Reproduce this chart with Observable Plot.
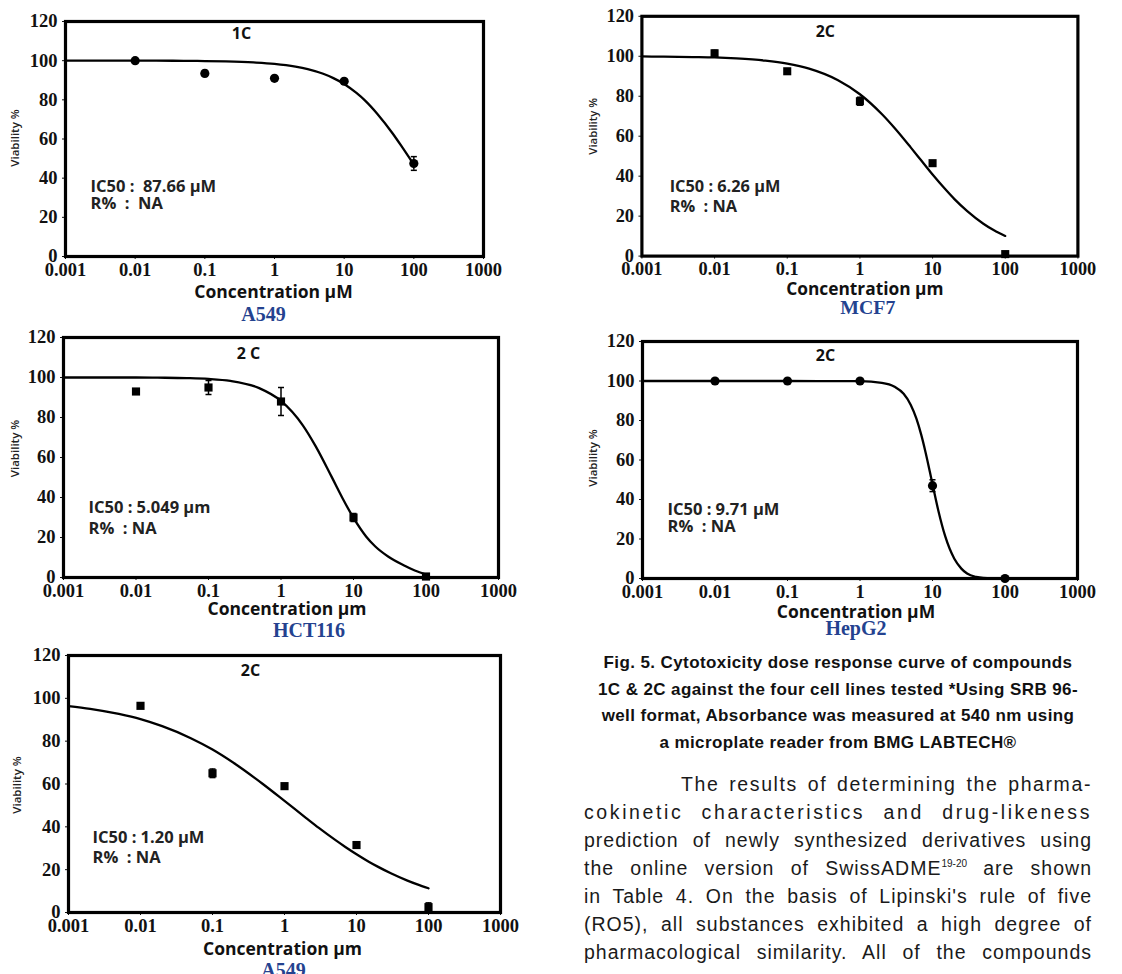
<!DOCTYPE html>
<html><head><meta charset="utf-8">
<script src="https://cdn.jsdelivr.net/npm/d3@7"></script>
<script src="https://cdn.jsdelivr.net/npm/@observablehq/plot@0.6"></script>
<style>
html,body{margin:0;padding:0;background:#fff;}
#page{position:relative;width:1122px;height:974px;overflow:hidden;background:#fff;}
.panel{position:absolute;}
.panel svg text{white-space:pre;}
.caption{position:absolute;left:580px;width:516px;top:650px;font-family:"Liberation Sans",Arial,sans-serif;font-weight:bold;font-size:17px;letter-spacing:0.4px;line-height:26.6px;text-align:center;color:#111;}
.body{position:absolute;left:584px;width:508px;top:770px;font-family:"Liberation Sans",Arial,sans-serif;font-size:19.5px;letter-spacing:1px;line-height:28px;color:#1a1a1a;}
.body div{text-align:justify;text-align-last:justify;white-space:nowrap;}
.body sup{font-size:10px;vertical-align:8px;line-height:0;letter-spacing:0;}
</style></head>
<body><div id="page"></div>
<script>
// ---- data ----
const conc = [0.01, 0.1, 1, 10, 100];
const xTicks = [0.001, 0.01, 0.1, 1, 10, 100, 1000];
const yTicks = [0, 20, 40, 60, 80, 100, 120];
const curveConc = [0.001, 0.002, 0.005, 0.01, 0.02, 0.05, 0.1, 0.2, 0.5, 1, 2, 3, 5, 7, 10, 15, 20, 30, 50, 70, 100];
const curveConcHepG2 = [0.001, 0.01, 0.1, 1, 2, 3, 4, 5, 6, 7, 8, 10, 12, 15, 20, 25, 30, 40, 50, 100];

// 1C - A549
const a549_1C_viab = [100, 93.5, 91, 89.5, 47.5];
const a549_1C_err  = [0.8, 1.5, 0.8, 1.2, 3.5];
const a549_1C_curve = [100, 100, 100, 100, 100, 99.9, 99.8, 99.6, 99.1, 98.4, 97, 95.7, 93.3, 91.1, 88.1, 83.5, 79.6, 72.8, 62.7, 55.2, 47];
// 2C - MCF7
const mcf7_viab = [101.5, 92.5, 77.5, 46.5, 1];
const mcf7_err  = [1.5, 1, 2, 1, 0.5];
const mcf7_curve = [99.9, 99.8, 99.6, 99.4, 98.9, 97.8, 96.3, 93.8, 88, 81, 71.1, 64.1, 54.4, 47.8, 40.8, 33.4, 28.5, 22.5, 16.2, 12.9, 10.1];
// 2C - HCT116
const hct116_viab = [93, 95, 88, 30, 0.5];
const hct116_err  = [1, 3.5, 7, 2, 0.5];
const hct116_curve = [100, 100, 100, 100, 99.9, 99.7, 99.3, 98.3, 94.7, 88.3, 76.1, 65.7, 50.3, 39.9, 29.8, 20.4, 15.5, 10.5, 6, 3.5, 1.5];
// 2C - HepG2
const hepg2_viab = [100, 100, 100, 47, 0];
const hepg2_err  = [0.5, 0.3, 0.5, 3, 0.3];
const hepg2_curve = [100, 100, 100, 99.9, 99.1, 97.1, 93.5, 88, 80.9, 72.7, 64.1, 47.8, 34.6, 21.3, 10, 5, 2.5, 0.8, 0.3, 0];
// 2C - A549
const a549_2C_viab = [96.5, 65, 59, 31.5, 2.5];
const a549_2C_err  = [0.8, 2, 1, 1, 2];
const a549_2C_curve = [96.4, 95.1, 92.7, 90.3, 87, 81.4, 76.1, 69.7, 60, 52.1, 44.1, 39.5, 34, 30.6, 27.2, 23.6, 21.3, 18.3, 15, 13.1, 11.3];

// ---- layout / drawing ----
const ML = 65, MT = 21, MR = 45, MB = 75;
const SANS = "'Open Sans', 'DejaVu Sans', sans-serif";
const SERIF = "'Liberation Serif', 'Times New Roman', serif";
const cap = {draw(ctx, size) { const w = Math.sqrt(size) / 2; ctx.moveTo(-w, 0); ctx.lineTo(w, 0); }};

const panels = [
  {left: 65, top: 21, right: 483, bottom: 256, viab: a549_1C_viab, err: a549_1C_err, cx: curveConc, cy: a549_1C_curve,
   tag: "1C", tagDx: 176, tagDy: 12, ic: "IC50 :  87.66 μM", r: "R%  :  NA", icDx: 25, icDy: 165, rDy: 182,
   xTitle: "Concentration μM", xtDx: -1, xtDy: 36, cell: "A549", cellDx: -11, cellDy: 58, vDx: -50, vDy: -1, symbol: "circle"},
  {left: 642, top: 16, right: 1082, bottom: 258, viab: mcf7_viab, err: mcf7_err, cx: curveConc, cy: mcf7_curve,
   tag: "2C", tagDx: 185, tagDy: 16, ic: "IC50 : 6.26 μM", r: "R%  : NA", icDx: 28, icDy: 172, rDy: 192,
   xTitle: "Concentration μm", xtDx: 5, xtDy: 34, cell: "MCF7", cellDx: 8, cellDy: 52, vDx: -49, vDy: -10, symbol: "square"},
  {left: 63, top: 337, right: 498, bottom: 577, viab: hct116_viab, err: hct116_err, cx: curveConc, cy: hct116_curve,
   tag: "2 C", tagDx: 185, tagDy: 16, ic: "IC50 : 5.049 μm", r: "R%  : NA", icDx: 25, icDy: 170, rDy: 191,
   xTitle: "Concentration μm", xtDx: 6, xtDy: 32, cell: "HCT116", cellDx: 28, cellDy: 53, vDx: -48, vDy: -9, symbol: "square"},
  {left: 642, top: 341, right: 1077, bottom: 578, viab: hepg2_viab, err: hepg2_err, cx: curveConcHepG2, cy: hepg2_curve,
   tag: "2C", tagDx: 183, tagDy: 14, ic: "IC50 : 9.71 μM", r: "R%  : NA", icDx: 25, icDy: 168, rDy: 185,
   xTitle: "Concentration μM", xtDx: -4, xtDy: 34, cell: "HepG2", cellDx: -4, cellDy: 50, vDx: -49, vDy: -2, symbol: "circle"},
  {left: 68, top: 655, right: 500, bottom: 912, viab: a549_2C_viab, err: a549_2C_err, cx: curveConc, cy: a549_2C_curve,
   tag: "2C", tagDx: 182, tagDy: 15, ic: "IC50 : 1.20 μM", r: "R%  : NA", icDx: 24, icDy: 182, rDy: 202,
   xTitle: "Concentration μm", xtDx: -2, xtDy: 37, cell: "A549", cellDx: -1, cellDy: 58, vDx: -51, vDy: 1, symbol: "square"}
];

const page = document.getElementById("page");
for (const p of panels) {
  const fw = p.right - p.left, fh = p.bottom - p.top;
  const pts = conc.map((c, i) => ({c, v: p.viab[i], e: p.err[i]}));
  const crv = p.cx.map((c, i) => ({c, v: p.cy[i]}));
  const chart = Plot.plot({
    width: fw + ML + MR, height: fh + MT + MB,
    marginLeft: ML, marginTop: MT, marginRight: MR, marginBottom: MB,
    style: {background: "transparent", overflow: "visible", color: "#111", fontFamily: SERIF, fontSize: "18.5px", fontWeight: "bold"},
    x: {type: "log", domain: [0.001, 1000], ticks: xTicks, tickFormat: d => String(d), label: null, tickSize: 3, tickPadding: 3},
    y: {domain: [0, 120], ticks: yTicks, label: null, tickSize: 3, tickPadding: 5},
    marks: [
      Plot.frame({stroke: "#000", strokeWidth: 3.2}),
      Plot.line(crv, {x: "c", y: "v", curve: "monotone-x", stroke: "#000", strokeWidth: 2.3}),
      Plot.ruleX(pts, {x: "c", y1: d => d.v - d.e, y2: d => d.v + d.e, stroke: "#000", strokeWidth: 1.5}),
      Plot.dot(pts, {x: "c", y: d => d.v + d.e, symbol: cap, r: 3.4, stroke: "#000", strokeWidth: 1.5}),
      Plot.dot(pts, {x: "c", y: d => d.v - d.e, symbol: cap, r: 3.4, stroke: "#000", strokeWidth: 1.5}),
      Plot.dot(pts, {x: "c", y: "v", symbol: p.symbol, r: 4.6, fill: "#000", stroke: null}),
      Plot.text([p.tag], {text: d => d, frameAnchor: "top-left", dx: p.tagDx, dy: p.tagDy, textAnchor: "middle", lineAnchor: "middle",
        fontFamily: SANS, fontSize: 16, fontWeight: "bold", fill: "#111"}),
      Plot.text([p.ic], {text: d => d, frameAnchor: "top-left", dx: p.icDx, dy: p.icDy, textAnchor: "start", lineAnchor: "middle",
        fontFamily: SANS, fontSize: 16.5, fontWeight: "bold", fill: "#222"}),
      Plot.text([p.r], {text: d => d, frameAnchor: "top-left", dx: p.icDx, dy: p.rDy, textAnchor: "start", lineAnchor: "middle",
        fontFamily: SANS, fontSize: 16.5, fontWeight: "bold", fill: "#222"}),
      Plot.text([p.xTitle], {text: d => d, frameAnchor: "bottom", dx: p.xtDx, dy: p.xtDy, textAnchor: "middle", lineAnchor: "middle",
        fontFamily: SANS, fontSize: 17.5, fontWeight: "bold", fill: "#111"}),
      Plot.text([p.cell], {text: d => d, frameAnchor: "bottom", dx: p.cellDx, dy: p.cellDy, textAnchor: "middle", lineAnchor: "middle",
        fontFamily: SERIF, fontSize: 20, fontWeight: "bold", fill: "#24428f"}),
      Plot.text(["Viability %"], {text: d => d, frameAnchor: "left", dx: p.vDx, dy: p.vDy, rotate: -90, textAnchor: "middle", lineAnchor: "middle",
        fontFamily: SANS, fontSize: 11.5, fontWeight: 600, fill: "#222"})
    ]
  });
  const div = document.createElement("div");
  div.className = "panel";
  div.style.left = (p.left - ML) + "px";
  div.style.top = (p.top - MT) + "px";
  div.appendChild(chart);
  page.appendChild(div);
}

// ---- caption and body text ----
const cap1 = document.createElement("div");
cap1.className = "caption";
cap1.innerHTML = "Fig. 5. Cytotoxicity dose response curve of compounds<br>1C &amp; 2C against the four cell lines tested *Using SRB 96-<br>well format, Absorbance was measured at 540 nm using<br>a microplate reader from BMG LABTECH®";
page.appendChild(cap1);

const bodyLines = [
  "The results of determining the pharma-",
  "cokinetic characteristics and drug-likeness",
  "prediction of newly synthesized derivatives using",
  "the online version of SwissADME<sup>19-20</sup> are shown",
  "in Table 4. On the basis of Lipinski's rule of five",
  "(RO5), all substances exhibited a high degree of",
  "pharmacological similarity. All of the compounds"
];
const lineSpacing = ["1.6px", "2.6px", null, null, null, null, null];
const body = document.createElement("div");
body.className = "body";
bodyLines.forEach((t, i) => {
  const d = document.createElement("div");
  d.innerHTML = t;
  if (i === 0) d.style.paddingLeft = "97px";
  if (lineSpacing[i]) d.style.letterSpacing = lineSpacing[i];
  body.appendChild(d);
});
page.appendChild(body);
</script>
</body></html>
